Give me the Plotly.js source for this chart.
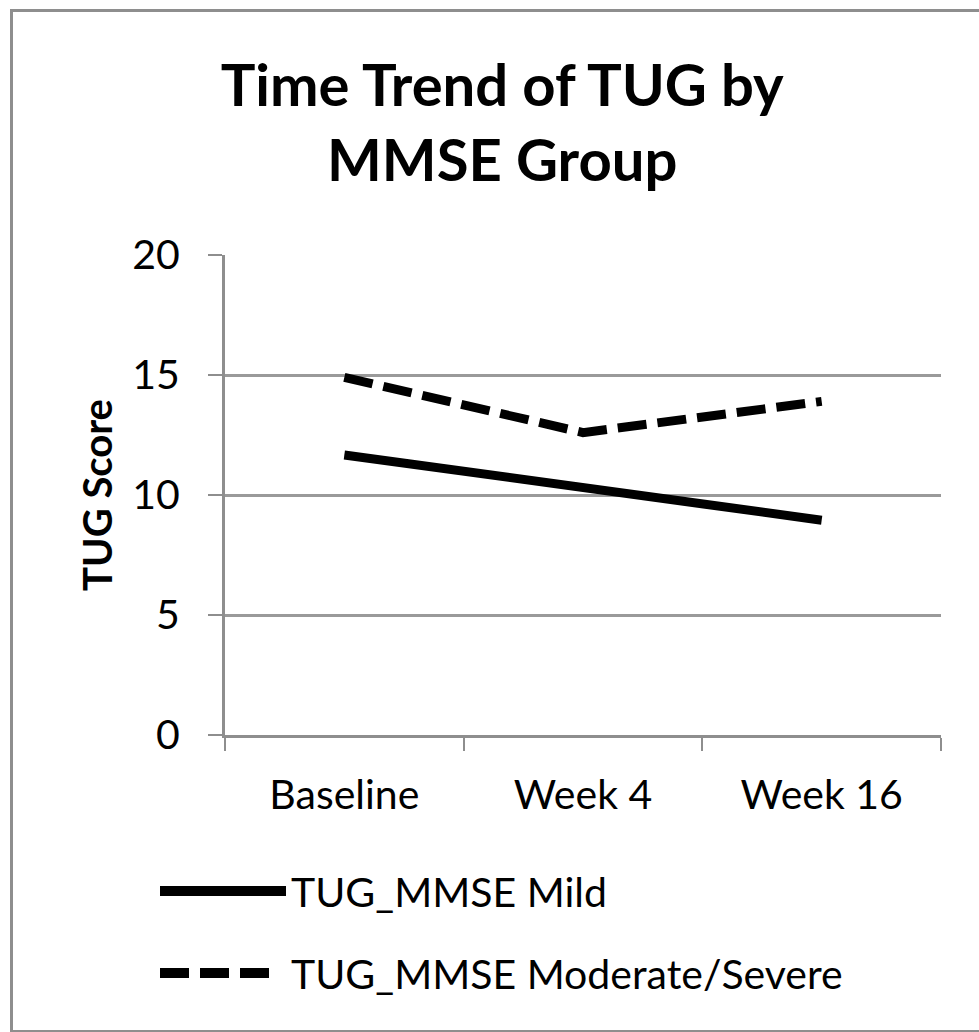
<!DOCTYPE html>
<html>
<head>
<meta charset="utf-8">
<script src="https://cdn.plot.ly/plotly-3.0.1.min.js"></script>
<style>
  html, body { margin: 0; padding: 0; background: #ffffff; }
  #frame { position: absolute; left: 10px; top: 9px; width: 1010px; height: 1018px; border: 3px solid #8e8e8e; }
  #chart { position: absolute; left: 0; top: 0; width: 979px; height: 1032px; }
</style>
</head>
<body>
<div id="frame"></div>
<div id="chart"></div>
<script>
// ---- data ----
const timepoints = ["Baseline", "Week 4", "Week 16"];
const mildName = "TUG_MMSE Mild";
const mildValues = [11.67, 10.35, 8.95];
const modName = "TUG_MMSE Moderate/Severe";
const modValues = [14.9, 12.6, 13.9];
const yTicks = [0, 5, 10, 15, 20];

const FONT = "Lato, 'Open Sans', sans-serif";
const DASH = "29px,11px";

const traces = [
  { x: timepoints, y: mildValues, name: mildName, type: "scatter", mode: "lines",
    line: { color: "#000000", width: 9 }, showlegend: false },
  { x: timepoints, y: modValues, name: modName, type: "scatter", mode: "lines",
    line: { color: "#000000", width: 9, dash: DASH }, showlegend: false }
];

// plot area geometry (pixels) used to place the custom legend in paper units
const L = 225, R = 38, T = 255, B = 297, W = 979, H = 1032;
const pw = W - L - R, ph = H - T - B;
const px = v => (v - L) / pw;
const py = v => (H - B - v) / ph;

const legendRows = [
  { name: mildName, dash: "solid", y: 891 },
  { name: modName, dash: DASH, y: 973 }
];
const shapes = [], annotations = [];
legendRows.forEach(r => {
  shapes.push({ type: "line", xref: "paper", yref: "paper",
    x0: px(160), x1: px(r.dash === "solid" ? 286 : 272), y0: py(r.y), y1: py(r.y),
    line: { color: "#000000", width: 10, dash: r.dash } });
  annotations.push({ xref: "paper", yref: "paper", x: px(289), y: py(r.y),
    xanchor: "left", yanchor: "middle", showarrow: false, text: r.name,
    font: { family: FONT, size: 41, color: "#000000" } });
});

const layout = {
  width: W, height: H,
  margin: { l: L, r: R, t: T, b: B, pad: 0 },
  paper_bgcolor: "rgba(0,0,0,0)",
  plot_bgcolor: "rgba(0,0,0,0)",
  showlegend: false,
  title: {
    text: "Time Trend of TUG by<br>MMSE Group",
    font: { family: FONT, size: 58, color: "#000000", weight: "bold" },
    xref: "container", x: 0.513, xanchor: "center",
    yref: "container", y: 1 - 106 / H, yanchor: "top"
  },
  xaxis: {
    type: "category", range: [-0.5, 2.5], tickson: "boundaries",
    ticks: "outside", ticklen: 13, tickwidth: 2, tickcolor: "#8e8e8e",
    showline: true, linecolor: "#8e8e8e", linewidth: 3,
    showgrid: false, zeroline: false,
    tickfont: { family: FONT, size: 41, color: "#000000" },
    ticklabelstandoff: 22
  },
  yaxis: {
    range: [0, 20], tickvals: yTicks, ticktext: yTicks.map(String),
    ticks: "outside", ticklen: 14, tickwidth: 2, tickcolor: "#8e8e8e",
    showline: true, linecolor: "#8e8e8e", linewidth: 3,
    showgrid: true, gridcolor: "#9a9a9a", gridwidth: 3, zeroline: false,
    tickfont: { family: FONT, size: 41, color: "#000000" },
    ticklabelstandoff: 20,
    title: { text: "TUG Score", font: { family: FONT, size: 40, color: "#000000", weight: "bold" }, standoff: 8 }
  },
  shapes: shapes,
  annotations: annotations
};

Plotly.newPlot("chart", traces, layout, { displayModeBar: false, staticPlot: true });
</script>
</body>
</html>
